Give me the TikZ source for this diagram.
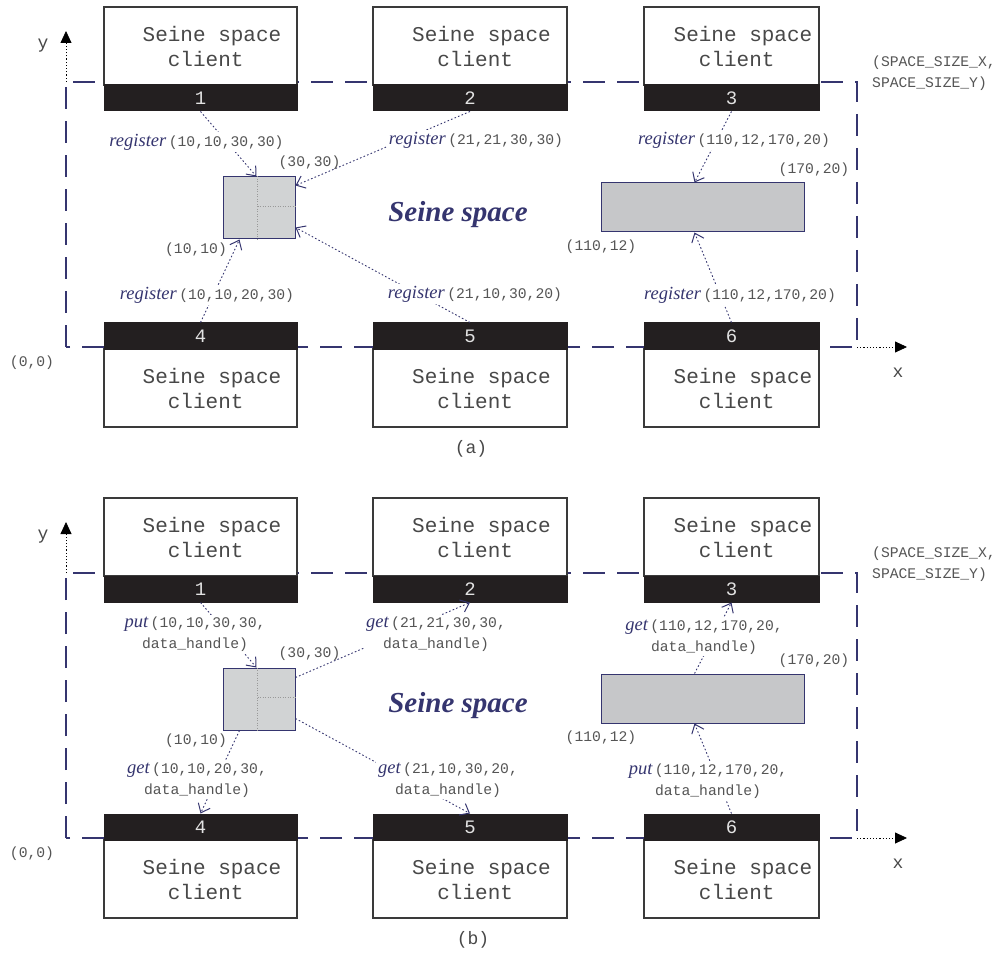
\documentclass[tikz,border=0pt]{standalone}
\usepackage{fontspec}
\usetikzlibrary{arrows.meta,calc}
\newfontfamily\monof{Liberation Mono}
\newfontfamily\seriff{Liberation Serif}
\definecolor{navy}{HTML}{35356F}
\definecolor{bandfill}{HTML}{231F20}
\definecolor{boxline}{HTML}{3A3A3A}
\definecolor{areafill}{HTML}{D1D3D4}
\definecolor{widefill}{HTML}{C6C7C9}
\definecolor{lblgrey}{HTML}{555555}
\definecolor{txtgrey}{HTML}{484848}
\definecolor{numgrey}{HTML}{E2E2E2}

% operation name in a label, followed by its argument list
\newcommand\op[1]{{\seriff\itshape\fontsize{18.5}{21}\selectfont\color{navy}#1}\hspace{2.5pt}}

\tikzset{
  frame/.style={draw=navy, line width=1.6pt, dash pattern=on 22pt off 12pt},
  axis/.style={draw=black, line width=0.8pt, dash pattern=on 1.2pt off 2pt,
    -{Triangle[length=12pt,width=11pt]}},
  cbody/.style={draw=boxline, fill=white, line width=1.2pt, inner sep=0pt,
    minimum height=78pt},
  cband/.style={draw=bandfill, fill=bandfill, line width=1pt, inner sep=0pt,
    minimum height=26pt, text=numgrey, font=\monof\fontsize{19}{20}\selectfont},
  ctext/.style={align=center, text=txtgrey, inner sep=0pt,
    font=\monof\fontsize{21}{25}\selectfont},
  area/.style={draw=navy, fill=areafill, line width=1pt, inner sep=0pt},
  subgrid/.style={draw=black!40, line width=0.7pt, dash pattern=on 1pt off 1.5pt},
  conn/.style={draw=navy, line width=0.9pt, dash pattern=on 1.6pt off 2.2pt,
    -{Straight Barb[length=8pt,width=13pt,line width=1pt]}},
  lbl/.style={fill=white, inner sep=2pt, align=center, text=lblgrey,
    font=\monof\fontsize{14.7}{21}\selectfont},
  coord/.style={inner sep=1pt, text=lblgrey, font=\monof\fontsize{14.7}{21}\selectfont},
  axlbl/.style={inner sep=0pt, text=txtgrey, font=\monof\fontsize{18}{20}\selectfont},
  spacename/.style={inner sep=0pt, text=navy,
    font=\seriff\bfseries\itshape\fontsize{29}{32}\selectfont},
  caption/.style={inner sep=0pt, text=txtgrey, font=\monof\fontsize{18}{20}\selectfont},
}

% a client box: body with its numbered band below (top row) or above (bottom row)
\newcommand\clienttop[4]{%
  \node[cbody, minimum width=#4] (#1body#2) at (#3,46) {};
  \node[cband, minimum width=#4] (#1band#2) at (#3,98) {#2};
  \node[ctext] (#1text#2) at ($(#1body#2.center)+(11.5,0)$) {Seine space\\client\hphantom{x}};
}
\newcommand\clientbot[4]{%
  \node[cbody, minimum width=#4] (#1body#2) at (#3,388) {};
  \node[cband, minimum width=#4] (#1band#2) at (#3,336) {#2};
  \node[ctext] (#1text#2) at ($(#1body#2.center)+(11.5,0)$) {Seine space\\client\hphantom{x}};
}

% frame, axes, clients and the two registered regions of one panel
\newcommand\panelbase[1]{%
  \coordinate (#1o) at (66,347);
  \coordinate (#1m) at (857,82);
  \coordinate (#1yfoot) at (66,82);
  \coordinate (#1ytip) at (66,31);
  \coordinate (#1xfoot) at (857,347);
  \coordinate (#1xtip) at (907,347);
  \draw[frame] (#1o) rectangle (#1m);
  \draw[axis] (#1yfoot) -- (#1ytip);
  \draw[axis] (#1xfoot) -- (#1xtip);
  \node[axlbl] (#1ylbl) at (43,46) {y};
  \node[axlbl] (#1xlbl) at (898,373) {x};
  \clienttop{#1}{1}{200.5}{193}
  \clienttop{#1}{2}{470}{194}
  \clienttop{#1}{3}{731.5}{175}
  \clientbot{#1}{4}{200.5}{193}
  \clientbot{#1}{5}{470}{194}
  \clientbot{#1}{6}{731.5}{175}
  \node[area, minimum width=72pt, minimum height=62pt] (#1g) at (259,208) {};
  \draw[subgrid] ($(#1g.north west)+(35,0)$) -- ($(#1g.south west)+(35,0)$);
  \draw[subgrid] ($(#1g.north west)+(35,30)$) -- ($(#1g.north east)+(0,30)$);
  \node[area, fill=widefill, minimum width=203pt, minimum height=49pt] (#1w) at (702.5,207.5) {};
}

% corner coordinates and the space name, common to both panels
\newcommand\panellabels[1]{%
  \node[coord] (#1orig) at (32,363) {(0,0)};
  \node[coord, align=left, anchor=west] (#1size) at (871,73) {(SPACE\_SIZE\_X,\\SPACE\_SIZE\_Y)};
  \node[coord] (#1c3030) at (309.5,163) {(30,30)};
  \node[coord] (#1c1010) at (196,250) {(10,10)};
  \node[coord] (#1c11012) at (601,247) {(110,12)};
  \node[coord] (#1c17020) at (814,170) {(170,20)};
  \node[spacename] (#1name) at (458,215) {Seine space};
}

\begin{document}
\begin{tikzpicture}[x=1pt,y=-1pt]
\useasboundingbox (0,0) rectangle (1006,957);

% (a) registering regions
\begin{scope}
  \panelbase{a}
  \draw[conn] (aband1.south) -- ($(ag.north west)+(34,0)$);
  \draw[conn] (aband2.south) -- ($(ag.north east)+(0,9)$);
  \draw[conn] (aband4.north) -- ($(ag.south west)+(17,0)$);
  \draw[conn] (aband5.north) -- ($(ag.south east)+(0,-12)$);
  \draw[conn] (aband3.south) -- ($(aw.north west)+(94,0)$);
  \draw[conn] (aband6.north) -- ($(aw.south west)+(94,0)$);
  \node[lbl] (ar1) at (196.5,142) {\op{register}(10,10,30,30)};
  \node[lbl] (ar2) at (476,140) {\op{register}(21,21,30,30)};
  \node[lbl] (ar3) at (734,140) {\op{register}(110,12,170,20)};
  \node[lbl] (ar4) at (207,295) {\op{register}(10,10,20,30)};
  \node[lbl] (ar5) at (475,294) {\op{register}(21,10,30,20)};
  \node[lbl] (ar6) at (740,295) {\op{register}(110,12,170,20)};
  \panellabels{a}
  \node[caption] (acap) at (471,449) {(a)};
\end{scope}

% (b) putting and getting data
\begin{scope}[shift={(0,491)}]
  \panelbase{b}
  \draw[conn] (bband1.south) -- ($(bg.north west)+(34,0)$);
  \draw[conn] ($(bg.north east)+(0,10)$) -- (bband2.south);
  \draw[conn] ($(bg.south west)+(17,0)$) -- (bband4.north);
  \draw[conn] ($(bg.south east)+(0,-12)$) -- (bband5.north);
  \draw[conn] ($(bw.north west)+(94,0)$) -- (bband3.south);
  \draw[conn] (bband6.north) -- ($(bw.south west)+(94,0)$);
  \node[lbl] (bp1) at (195,143) {\op{put}(10,10,30,30,\\data\_handle)};
  \node[lbl] (bg2) at (436,143) {\op{get}(21,21,30,30,\\data\_handle)};
  \node[lbl] (bg3) at (704,146) {\op{get}(110,12,170,20,\\data\_handle)};
  \node[lbl] (bg4) at (197,289) {\op{get}(10,10,20,30,\\data\_handle)};
  \node[lbl] (bg5) at (448,289) {\op{get}(21,10,30,20,\\data\_handle)};
  \node[lbl] (bp6) at (708,290) {\op{put}(110,12,170,20,\\data\_handle)};
  \panellabels{b}
  \node[caption] (bcap) at (473,449) {(b)};
\end{scope}
\end{tikzpicture}
\end{document}
